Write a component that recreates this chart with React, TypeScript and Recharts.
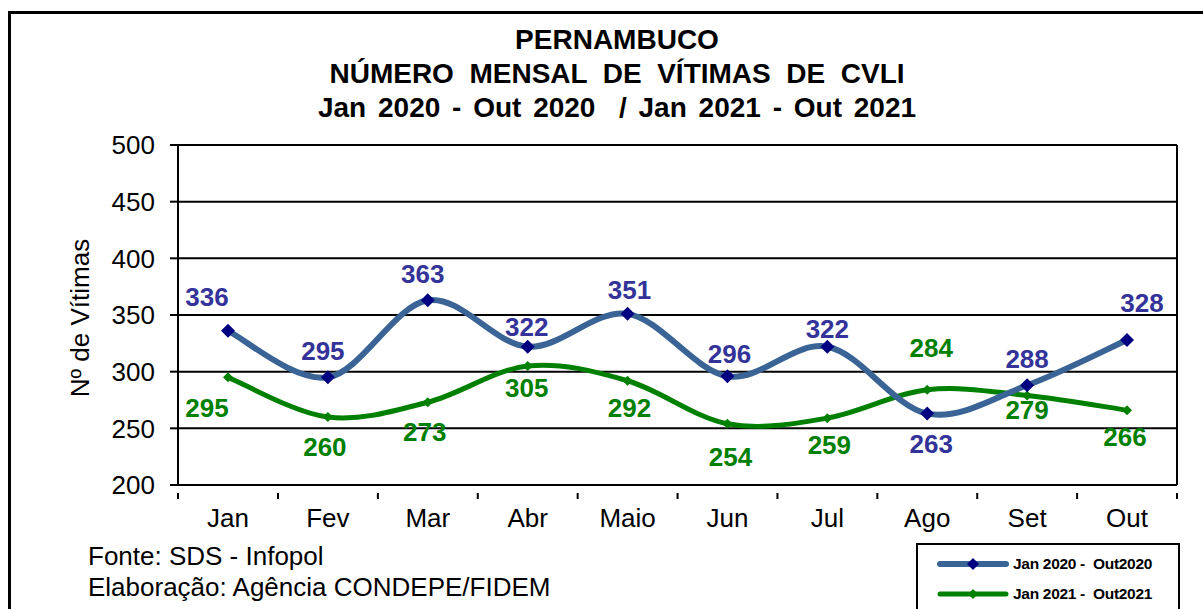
import { CartesianGrid, Legend, Line, LineChart, XAxis, YAxis } from 'recharts';

const MONTHS = ['Jan', 'Fev', 'Mar', 'Abr', 'Maio', 'Jun', 'Jul', 'Ago', 'Set', 'Out'];
const VITIMAS_2020 = [336, 295, 363, 322, 351, 296, 322, 263, 288, 328];
const VITIMAS_2021 = [295, 260, 273, 305, 292, 254, 259, 284, 279, 266];
const Y_TICKS = [200, 250, 300, 350, 400, 450, 500];
const SERIES_2020 = 'Jan 2020 -  Out2020';
const SERIES_2021 = 'Jan 2021 -  Out2021';

// where each data label sits relative to its point (px)
const LABEL_DX_2020 = [-21, -5, -5, -1, 2, 2, 0, 4, 0, 15];
const LABEL_DY_2020 = [-34, -26, -26, -20, -24, -22, -18, 30, -26, -37];
const LABEL_DX_2021 = [-21, -3, -3, -1, 2, 3, 2, 4, 0, -2];
const LABEL_DY_2021 = [31, 30, 30, 22, 27, 33, 27, -42, 15, 27];

const FONT = '"Liberation Sans", Arial, sans-serif';
const BLUE_LINE = '#3A6496';
const BLUE_MARK = '#000080';
const BLUE_TEXT = '#333399';
const GREEN = '#008000';

const data = MONTHS.map((mes, i) => ({ mes, v2020: VITIMAS_2020[i], v2021: VITIMAS_2021[i] }));

// Excel-style smoothed line (Catmull-Rom through the points)
function excelSmooth(context: any) {
  let pts: Array<[number, number]> = [];
  return {
    areaStart() {},
    areaEnd() {},
    lineStart() {
      pts = [];
    },
    lineEnd() {
      if (!pts.length) return;
      context.moveTo(pts[0][0], pts[0][1]);
      for (let i = 0; i < pts.length - 1; i++) {
        const p0 = pts[i - 1] || pts[i];
        const p1 = pts[i];
        const p2 = pts[i + 1];
        const p3 = pts[i + 2] || p2;
        context.bezierCurveTo(
          p1[0] + (p2[0] - p0[0]) / 6,
          p1[1] + (p2[1] - p0[1]) / 6,
          p2[0] - (p3[0] - p1[0]) / 6,
          p2[1] - (p3[1] - p1[1]) / 6,
          p2[0],
          p2[1],
        );
      }
    },
    point(x: number, y: number) {
      pts.push([+x, +y]);
    },
  };
}

const diamond = (cx: number, cy: number, r: number, fill: string, key: any) => (
  <polygon
    key={key}
    points={`${cx},${cy - r} ${cx + r},${cy} ${cx},${cy + r} ${cx - r},${cy}`}
    fill={fill}
  />
);

const makeLabel = (dxs: number[], dys: number[], color: string) => (props: any) => {
  const { x, y, value, index } = props;
  return (
    <text
      key={`lbl-${index}`}
      x={x + dxs[index]}
      y={y + dys[index]}
      textAnchor="middle"
      dominantBaseline="central"
      fill={color}
      fontSize={26}
      fontWeight="bold"
      fontFamily={FONT}
    >
      {value}
    </text>
  );
};

const MonthTick = (props: any) => {
  const { x, y, payload, index } = props;
  return (
    <g>
      {index === 0 && <line x1={x - 50} y1={y} x2={x - 50} y2={y + 6} stroke="#000" strokeWidth={2} />}
      <line x1={x + 50} y1={y} x2={x + 50} y2={y + 6} stroke="#000" strokeWidth={2} />
      <text x={x} y={y + 25} textAnchor="middle" dominantBaseline="central" fontSize={26} fontFamily={FONT} fill="#000">
        {payload.value}
      </text>
    </g>
  );
};

const LegendBox = () => (
  <div
    style={{
      width: 264,
      height: 70,
      border: '2px solid #000',
      background: '#fff',
      fontFamily: FONT,
      fontSize: 15.5,
      fontWeight: 'bold',
      boxSizing: 'border-box',
    }}
  >
    {[
      { name: SERIES_2020, line: BLUE_LINE, mark: BLUE_MARK, w: 6, r: 6 },
      { name: SERIES_2021, line: GREEN, mark: GREEN, w: 5, r: 5 },
    ].map((s, i) => (
      <div key={s.name} style={{ display: 'flex', alignItems: 'center', height: 30, marginTop: i === 0 ? 4 : 0 }}>
        <svg width={95} height={20}>
          <line x1={22} y1={10} x2={88} y2={10} stroke={s.line} strokeWidth={s.w} strokeLinecap="round" />
          {diamond(55, 10, s.r, s.mark, 'd')}
        </svg>
        <span style={{ whiteSpace: 'pre', letterSpacing: -0.3 }}>{s.name}</span>
      </div>
    ))}
  </div>
);

export default function App() {
  return (
    <div
      style={{
        position: 'absolute',
        left: 0,
        top: 0,
        width: 1203,
        height: 609,
        overflow: 'hidden',
        background: '#fff',
        fontFamily: FONT,
      }}
    >
      <div
        style={{
          position: 'absolute',
          left: 8,
          top: 11,
          width: 1220,
          height: 640,
          border: '3px solid #000',
        }}
      />
      <div
        style={{
          position: 'absolute',
          left: 0,
          top: 23,
          width: 1234,
          textAlign: 'center',
          fontWeight: 'bold',
          fontSize: 28,
          lineHeight: '34px',
          color: '#000',
        }}
      >
        <div>PERNAMBUCO</div>
        <div style={{ whiteSpace: 'pre' }}>NÚMERO  MENSAL  DE  VÍTIMAS  DE  CVLI</div>
        <div style={{ whiteSpace: 'pre', wordSpacing: 4 }}>Jan 2020 - Out 2020  / Jan 2021 - Out 2021</div>
      </div>
      <div
        style={{
          position: 'absolute',
          left: 80,
          top: 318,
          transform: 'translate(-50%, -50%) rotate(-90deg)',
          whiteSpace: 'nowrap',
          fontSize: 26,
        }}
      >
        Nº de Vítimas
      </div>
      <div style={{ position: 'absolute', left: 88, top: 541, fontSize: 26, lineHeight: '31px' }}>
        <div>Fonte: SDS - Infopol</div>
        <div>Elaboração: Agência CONDEPE/FIDEM</div>
      </div>
      <LineChart
        width={1203}
        height={609}
        data={data}
        margin={{ top: 145, right: 25, bottom: 64, left: 78 }}
        style={{ position: 'absolute', left: 0, top: 0 }}
      >
        <CartesianGrid vertical={false} stroke="#000" strokeWidth={2} yAxisId="left" />
        <XAxis
          dataKey="mes"
          height={60}
          padding={{ left: 50, right: 50 }}
          axisLine={{ stroke: '#000', strokeWidth: 2 }}
          tickLine={false}
          tick={<MonthTick />}
          interval={0}
        />
        <YAxis
          yAxisId="left"
          width={100}
          domain={[200, 500]}
          ticks={Y_TICKS}
          interval={0}
          axisLine={{ stroke: '#000', strokeWidth: 2 }}
          tickLine={{ stroke: '#000', strokeWidth: 2 }}
          tickSize={8}
          tickMargin={15}
          tick={{ fill: '#000', fontSize: 26, fontFamily: FONT }}
        />
        <YAxis
          yAxisId="right"
          orientation="right"
          width={1}
          domain={[200, 500]}
          tick={false}
          tickLine={false}
          axisLine={{ stroke: '#000', strokeWidth: 2 }}
        />
        <Line
          yAxisId="left"
          dataKey="v2021"
          name={SERIES_2021}
          type={excelSmooth as any}
          stroke={GREEN}
          strokeWidth={5}
          dot={(p: any) => diamond(p.cx, p.cy, 5, GREEN, `g-${p.index}`)}
          activeDot={false}
          label={makeLabel(LABEL_DX_2021, LABEL_DY_2021, GREEN)}
          isAnimationActive={false}
        />
        <Line
          yAxisId="left"
          dataKey="v2020"
          name={SERIES_2020}
          type={excelSmooth as any}
          stroke={BLUE_LINE}
          strokeWidth={6}
          dot={(p: any) => diamond(p.cx, p.cy, 7, BLUE_MARK, `b-${p.index}`)}
          activeDot={false}
          label={makeLabel(LABEL_DX_2020, LABEL_DY_2020, BLUE_TEXT)}
          isAnimationActive={false}
        />
        <Legend
          layout="vertical"
          align="center"
          verticalAlign="middle"
          content={() => <LegendBox />}
          wrapperStyle={{ left: 916, top: 543, width: 264, height: 70 }}
        />
      </LineChart>
    </div>
  );
}
